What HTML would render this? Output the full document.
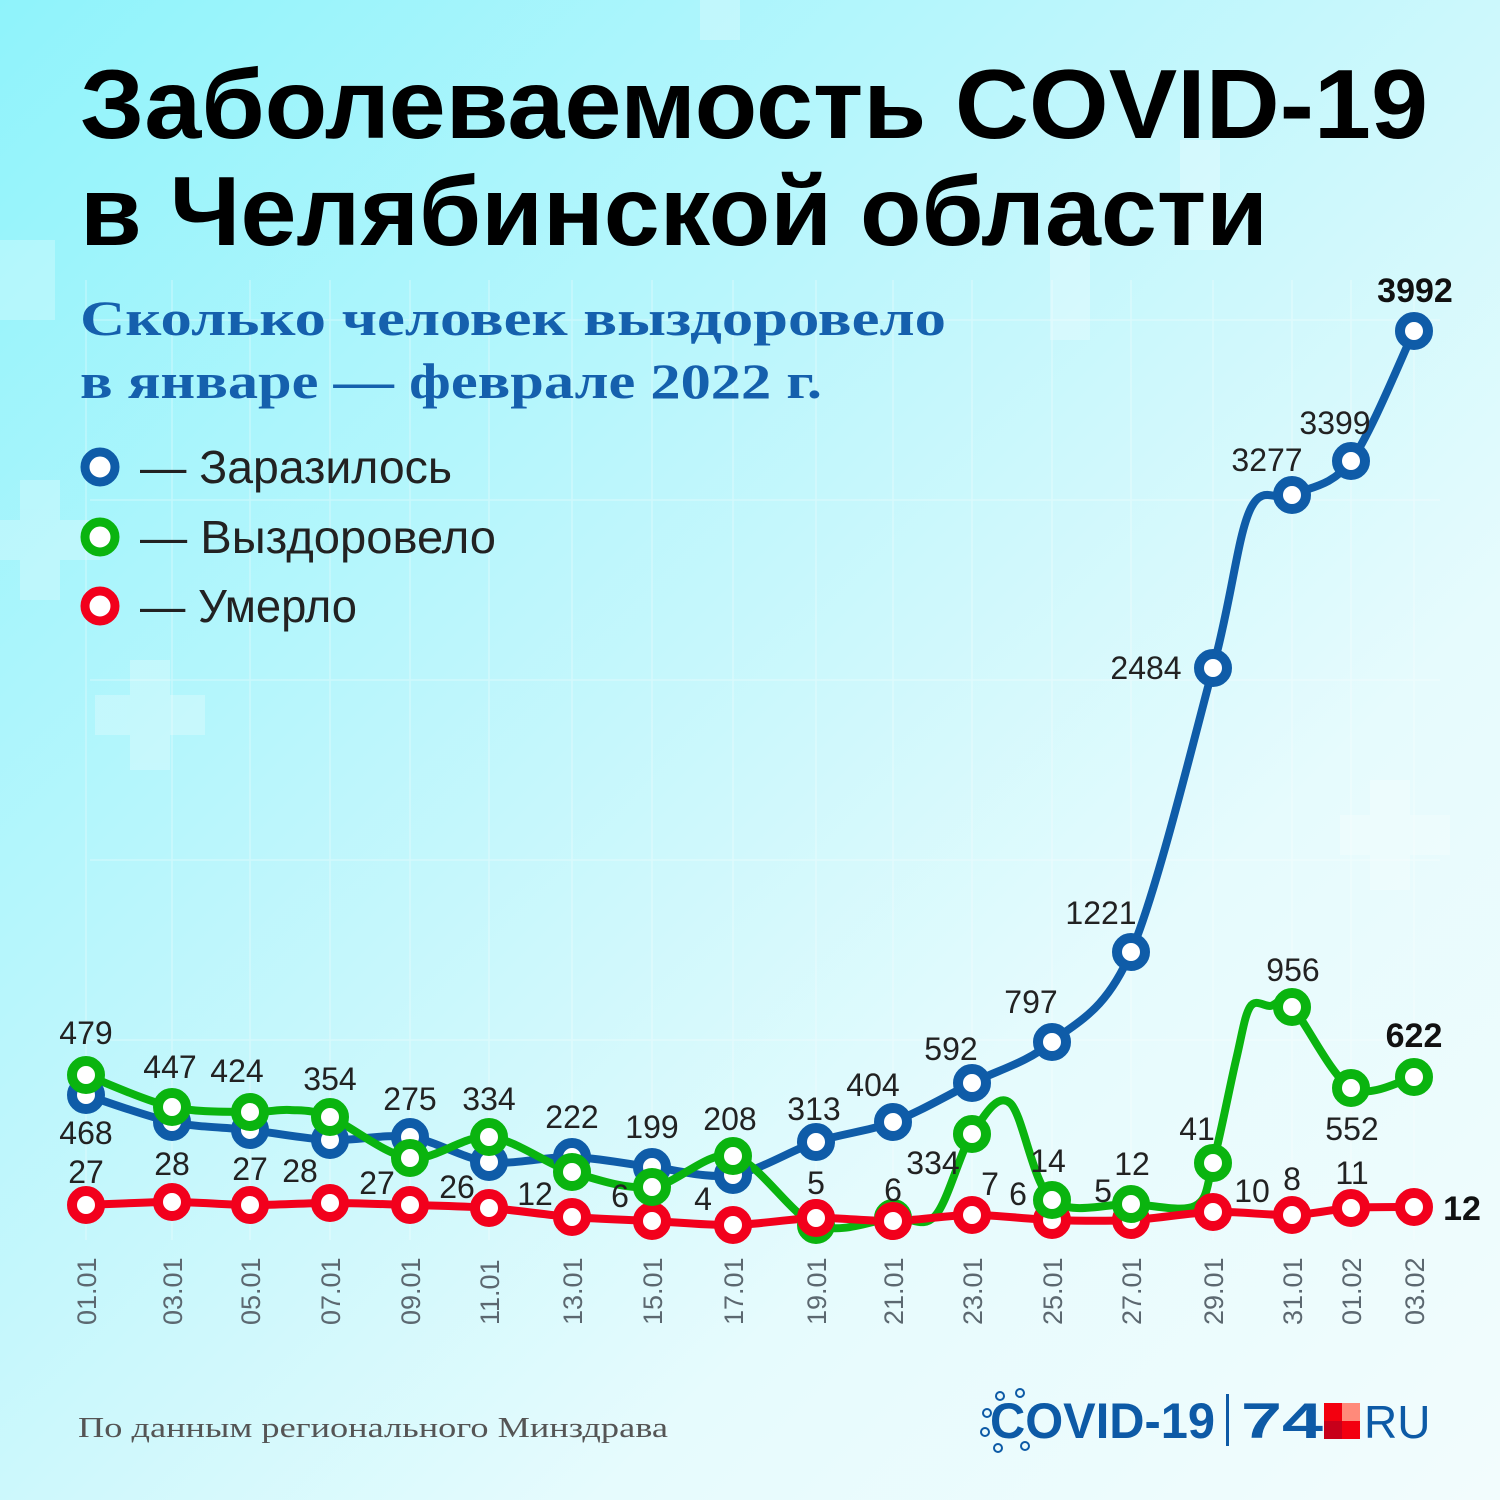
<!DOCTYPE html>
<html><head><meta charset="utf-8">
<style>
html,body{margin:0;padding:0}
body{width:1500px;height:1500px;overflow:hidden;background:linear-gradient(135deg,#8ff3fb 0%,#c6f7fc 45%,#e6fbfd 70%,#f2fcfd 100%);}
svg{display:block}
text{font-family:"Liberation Sans",sans-serif}
</style></head><body>
<svg id="s" width="1500" height="1500" viewBox="0 0 1500 1500" xmlns="http://www.w3.org/2000/svg">
<g fill="#ffffff" opacity="0.25">
<rect x="0" y="240" width="55" height="80"/><rect x="20" y="480" width="40" height="120"/><rect x="0" y="520" width="100" height="40"/>
<rect x="130" y="660" width="40" height="110"/><rect x="95" y="695" width="110" height="40"/>
<rect x="700" y="0" width="40" height="40"/><rect x="1370" y="780" width="40" height="110"/><rect x="1340" y="815" width="110" height="40"/>
<rect x="1180" y="140" width="40" height="110"/><rect x="1050" y="230" width="40" height="110"/>
</g>
<g stroke="#ffffff" stroke-width="1.5" opacity="0.3" id="grid"></g>
<text x="80" y="138" font-size="98" font-weight="bold" fill="#000" textLength="1348" lengthAdjust="spacingAndGlyphs">Заболеваемость COVID-19</text>
<text x="80" y="245" font-size="98" font-weight="bold" fill="#000" textLength="1188" lengthAdjust="spacingAndGlyphs">в Челябинской области</text>
<text x="80" y="335" font-size="50" font-weight="bold" fill="#1560ad" textLength="866" lengthAdjust="spacingAndGlyphs" style="font-family:'Liberation Serif',serif">Сколько человек выздоровело</text>
<text x="80" y="398" font-size="50" font-weight="bold" fill="#1560ad" textLength="742" lengthAdjust="spacingAndGlyphs" style="font-family:'Liberation Serif',serif">в январе — феврале 2022 г.</text>
<g font-size="46" fill="#222">
<circle cx="100" cy="467" r="15" fill="#fff" stroke="#0f5ca8" stroke-width="9"/><text x="140" y="483" textLength="312" lengthAdjust="spacingAndGlyphs">— Заразилось</text>
<circle cx="100" cy="537" r="15" fill="#fff" stroke="#0ab40f" stroke-width="9"/><text x="140" y="553" textLength="356" lengthAdjust="spacingAndGlyphs">— Выздоровело</text>
<circle cx="100" cy="606" r="15" fill="#fff" stroke="#f2001c" stroke-width="9"/><text x="140" y="622" textLength="217" lengthAdjust="spacingAndGlyphs">— Умерло</text>
</g>
<g id="lines"></g>
<g id="marks"></g>
<g id="labels" font-size="32" fill="#222" text-anchor="middle"></g>
<g id="dates" font-size="27" fill="#5c6870"></g>
<text x="78" y="1437" font-size="29" fill="#555" textLength="590" lengthAdjust="spacingAndGlyphs" style="font-family:'Liberation Serif',serif">По данным регионального Минздрава</text>
<g>
<text x="990" y="1438" font-size="50" font-weight="bold" fill="#0d5aa6" textLength="225" lengthAdjust="spacingAndGlyphs">COVID-19</text>
<g stroke="#0d5aa6" stroke-width="2" fill="none"><circle cx="1000" cy="1396" r="4"/><circle cx="1020" cy="1393" r="4"/><circle cx="987" cy="1413" r="4"/><circle cx="985" cy="1432" r="4"/><circle cx="998" cy="1448" r="4"/><circle cx="1025" cy="1446" r="4"/></g>
<rect x="1226" y="1394" width="3" height="52" fill="#0d5aa6"/>
<text x="1241" y="1438" font-size="50" font-weight="bold" fill="#0d5aa6" textLength="82" lengthAdjust="spacingAndGlyphs">74</text>
<rect x="1324" y="1403" width="18" height="18" fill="#f3000f"/><rect x="1342" y="1403" width="18" height="18" fill="#ff8a7a"/>
<rect x="1324" y="1421" width="18" height="18" fill="#c8001a"/><rect x="1342" y="1421" width="18" height="18" fill="#f3000f"/>
<text x="1364" y="1438" font-size="46" fill="#0d5aa6">RU</text>
</g>
</svg>
<script>
const X=[86,172,250,330,410,489,572,652,733,816,893,972,1052,1131,1213,1292,1351,1414];
const D=["01.01","03.01","05.01","07.01","09.01","11.01","13.01","15.01","17.01","19.01","21.01","23.01","25.01","27.01","29.01","31.01","01.02","03.02"];
const blue=[1095,1122,1130,1140,1137,1162,1157,1167,1175,1142,1122,1083,1042,952,668,495,461,331];
const green=[1075,1107,1112,1117,1158,1137,1172,1187,1156,1225,1218,1134,1200,1204,1163,1007,1088,1077];
const red=[1205,1202,1205,1203,1205,1208,1217,1221,1225,1218,1221,1215,1220,1220,1212,1215,1208,1207];
const NS="http://www.w3.org/2000/svg";
function el(t,a,p){const e=document.createElementNS(NS,t);for(const k in a)e.setAttribute(k,a[k]);document.getElementById(p).appendChild(e);return e;}
function path(pts){let d="M"+pts[0][0]+","+pts[0][1];for(let i=0;i<pts.length-1;i++){const p0=pts[i-1]||pts[i],p1=pts[i],p2=pts[i+1],p3=pts[i+2]||p2;const t=0.16;
const c1=[p1[0]+(p2[0]-p0[0])*t,p1[1]+(p2[1]-p0[1])*t],c2=[p2[0]-(p3[0]-p1[0])*t,p2[1]-(p3[1]-p1[1])*t];d+=" C"+c1+" "+c2+" "+p2;}return d;}
X.forEach(x=>el("line",{x1:x,y1:280,x2:x,y2:1240},"grid"));
[320,500,680,860,1040].forEach(y=>el("line",{x1:90,y1:y,x2:1440,y2:y},"grid"));
let bp=X.map((x,i)=>[x,blue[i]]);
bp.splice(15,0,[1250,510]);
let gp=X.map((x,i)=>[x,green[i]]);
gp.splice(15,0,[1236,1060],[1250,1007],[1270,1006]);
gp.splice(14,0,[1195,1206]);
gp.splice(12,0,[1010,1103]);
gp.splice(11,0,[935,1216]);
gp.splice(3,0,[290,1110]);
let rp=X.map((x,i)=>[x,red[i]]);
el("path",{d:path(bp),stroke:"#0f5ca8","stroke-width":8,fill:"none"},"lines");
el("path",{d:path(gp),stroke:"#0ab40f","stroke-width":8,fill:"none"},"lines");
el("path",{d:path(rp),stroke:"#f2001c","stroke-width":8,fill:"none"},"lines");
function mk(ys,c){X.forEach((x,i)=>el("circle",{cx:x,cy:ys[i],r:14,fill:"#fff",stroke:c,"stroke-width":10},"marks"));}
mk(blue,"#0f5ca8");mk(red,"#f2001c");mk(green,"#0ab40f");
[9,10].forEach(i=>el("circle",{cx:X[i],cy:red[i],r:14,fill:"#fff",stroke:"#f2001c","stroke-width":10},"marks"));
const L=[["479",86,1044],["468",86,1144],["447",170,1078],["424",237,1082],["354",330,1090],["275",410,1110],["334",489,1110],["222",572,1128],["199",652,1138],["208",730,1130],["313",814,1120],["404",873,1096],["592",951,1060],["797",1031,1013],["1221",1101,924],["2484",1146,679],["3277",1267,471],["3399",1335,434],["956",1293,981],["552",1352,1140],["334",933,1174],["14",1048,1172],["12",1132,1175],["41",1197,1140],
["27",86,1183],["28",172,1175],["27",250,1180],["28",300,1182],["27",377,1194],["26",457,1198],["12",535,1205],["6",620,1207],["4",703,1210],["5",816,1194],["6",893,1201],["7",990,1195],["6",1018,1205],["5",1103,1202],["10",1252,1202],["8",1292,1190],["11",1352,1184]];
L.forEach(l=>{const t=el("text",{x:l[1],y:l[2]},"labels");t.textContent=l[0];});
[["3992",1415,302],["622",1414,1047],["12",1462,1220]].forEach(l=>{const t=el("text",{x:l[1],y:l[2],"font-weight":"bold","font-size":34,fill:"#111"},"labels");t.textContent=l[0];});
X.forEach((x,i)=>{const t=el("text",{x:0,y:0,transform:"translate("+(x+10)+",1325) rotate(-90)"},"dates");t.textContent=D[i];});
</script>
</body></html>
